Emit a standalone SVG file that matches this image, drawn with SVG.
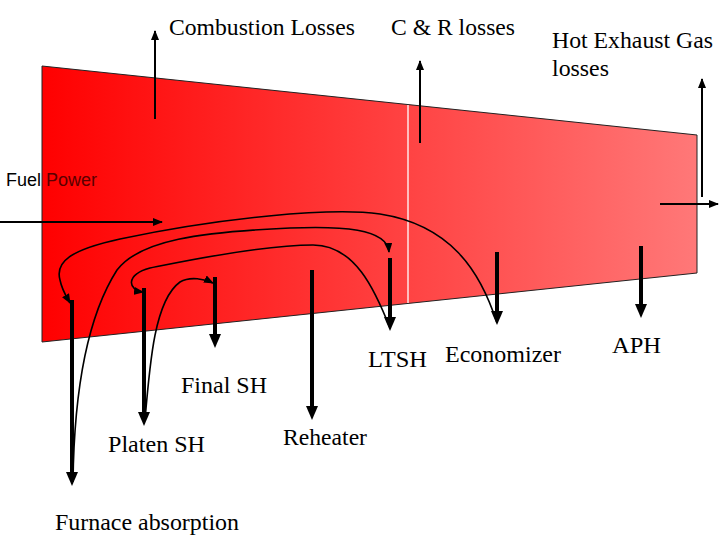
<svg xmlns="http://www.w3.org/2000/svg" width="720" height="540" viewBox="0 0 720 540">
<style>
.lbl{font-family:"Liberation Serif","Times New Roman",serif;font-size:22.5px;fill:#000}
.sans{font-family:"Liberation Sans",Arial,sans-serif;font-size:17.5px;fill:#000}
.thick{stroke:#000;stroke-width:4;fill:none}
.thin{stroke:#000;stroke-width:2;fill:none}
.curve{stroke:#000;stroke-width:1.6;fill:none}
.head{fill:#000}
</style>
<defs>
<linearGradient id="g" x1="42" y1="0" x2="697" y2="0" gradientUnits="userSpaceOnUse">
<stop offset="0" stop-color="#ff0000"/>
<stop offset="1" stop-color="#ff7878"/>
</linearGradient>
<marker id="sm" markerUnits="userSpaceOnUse" markerWidth="10" markerHeight="8" refX="9" refY="4" orient="auto" viewBox="0 0 10 8">
<path d="M0,0 L10,4 L0,8 z" fill="#000"/>
</marker>
<marker id="tm" markerUnits="userSpaceOnUse" markerWidth="10" markerHeight="8" refX="9" refY="4" orient="auto" viewBox="0 0 10 8">
<path d="M0,0 L10,4 L0,8 z" fill="#000"/>
</marker>
</defs>

<g id="boiler">
<polygon points="42,66 697,135 697,273 42,342" fill="url(#g)" stroke="#222" stroke-width="1"/>
<line x1="408" y1="105" x2="408" y2="303" stroke="#ffe6e6" stroke-width="1.5"/>
</g>

<g id="connectors">
<line class="thin" x1="155" y1="119" x2="155" y2="31" marker-end="url(#tm)"/>
<line class="thin" x1="420" y1="143" x2="420" y2="61" marker-end="url(#tm)"/>
<line class="thin" x1="702" y1="197" x2="702" y2="79" marker-end="url(#tm)"/>
<line class="thin" x1="660" y1="204" x2="718" y2="204" marker-end="url(#tm)"/>
<line class="thin" x1="0" y1="222" x2="162" y2="222" marker-end="url(#tm)"/>
<line class="thick" x1="72" y1="300" x2="72" y2="474"/>
<polygon class="head" points="66,472 78,472 72,486"/>
<line class="thick" x1="144" y1="288" x2="144" y2="414"/>
<polygon class="head" points="138,412 150,412 144,426"/>
<line class="thick" x1="215" y1="277" x2="215" y2="336"/>
<polygon class="head" points="209,334 221,334 215,348"/>
<line class="thick" x1="312" y1="270" x2="312" y2="408"/>
<polygon class="head" points="306,406 318,406 312,420"/>
<line class="thick" x1="390" y1="258" x2="390" y2="319"/>
<polygon class="head" points="384,317 396,317 390,331"/>
<line class="thick" x1="497" y1="252" x2="497" y2="313"/>
<polygon class="head" points="491,311 503,311 497,325"/>
<line class="thick" x1="641" y1="246" x2="641" y2="306"/>
<polygon class="head" points="635,304 647,304 641,318"/>
<path class="curve" d="M497,323 C480,270 450,225 380,214 C330,207 220,218 120,239 C70,250 55,262 60,280 C62,290 66,296 70,303" marker-end="url(#sm)"/>
<path class="curve" d="M73,482 C74,400 85,320 117,270 C140,240 200,232 290,228 C340,226 387,228 389,252" marker-end="url(#sm)"/>
<path class="curve" d="M390,328 C375,290 355,245 313,245 C260,245 180,262 150,268 C125,275 128,290 143,292" marker-end="url(#sm)"/>
<path class="curve" d="M145,420 C150,360 155,300 180,282 C190,276 205,279 213,283" marker-end="url(#sm)"/>
</g>

<g id="labels">
<text class="lbl" x="169" y="35" textLength="186" lengthAdjust="spacingAndGlyphs">Combustion Losses</text>
<text class="lbl" x="391" y="35" textLength="124" lengthAdjust="spacingAndGlyphs">C &amp; R losses</text>
<text class="lbl" x="552" y="48" textLength="161" lengthAdjust="spacingAndGlyphs">Hot Exhaust Gas</text>
<text class="lbl" x="552" y="76" textLength="57" lengthAdjust="spacingAndGlyphs">losses</text>
<text class="sans" x="6" y="186" textLength="91" lengthAdjust="spacingAndGlyphs"><tspan>Fuel </tspan><tspan fill="#5a0000">Power</tspan></text>
<text class="lbl" x="368" y="367" textLength="59" lengthAdjust="spacingAndGlyphs">LTSH</text>
<text class="lbl" x="445" y="362" textLength="116" lengthAdjust="spacingAndGlyphs">Economizer</text>
<text class="lbl" x="612" y="353" textLength="49" lengthAdjust="spacingAndGlyphs">APH</text>
<text class="lbl" x="181" y="393" textLength="86" lengthAdjust="spacingAndGlyphs">Final SH</text>
<text class="lbl" x="108" y="452" textLength="97" lengthAdjust="spacingAndGlyphs">Platen SH</text>
<text class="lbl" x="283" y="445" textLength="84" lengthAdjust="spacingAndGlyphs">Reheater</text>
<text class="lbl" x="55" y="530" textLength="184" lengthAdjust="spacingAndGlyphs">Furnace absorption</text>
</g>
</svg>
